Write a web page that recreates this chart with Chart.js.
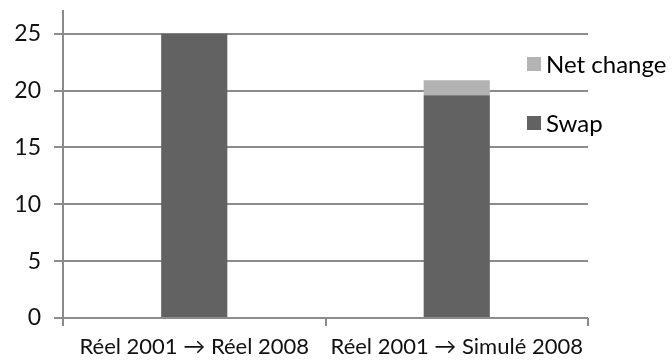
<!DOCTYPE html>
<html>
<head>
<meta charset="utf-8">
<script src="https://cdn.jsdelivr.net/npm/chart.js@4/dist/chart.umd.min.js"></script>
<style>
  html, body { margin: 0; padding: 0; background: #fff; }
  #wrap { width: 672px; height: 361px; }
</style>
</head>
<body>
<div id="wrap"><canvas id="chart" width="672" height="361"></canvas></div>
<script>
const categories = ["Réel 2001 \u2192 Réel 2008", "Réel 2001 \u2192 Simulé 2008"];
const swapValues = [25.0, 19.6];
const netChangeValues = [-0.1, 1.3];
const yTicks = [0, 5, 10, 15, 20, 25];

const FONT = "Lato, 'Open Sans', sans-serif";

// legend sits over the right edge of the plot, drawn by hand
const sideLegend = {
  id: "sideLegend",
  afterDraw(chart) {
    const ctx = chart.ctx;
    const items = chart.data.datasets.slice().reverse();
    ctx.save();
    ctx.font = "24px " + FONT;
    ctx.textBaseline = "middle";
    items.forEach((ds, i) => {
      const y = 64 + i * 59;
      ctx.fillStyle = ds.backgroundColor;
      ctx.fillRect(527, y - 7, 14, 14);
      ctx.fillStyle = "#000";
      ctx.fillText(ds.label, 546, y + 1);
    });
    ctx.restore();
  }
};

new Chart(document.getElementById("chart"), {
  type: "bar",
  data: {
    labels: categories,
    datasets: [
      { label: "Swap", data: swapValues, backgroundColor: "#626262" },
      { label: "Net change", data: netChangeValues, backgroundColor: "#b3b3b3" }
    ]
  },
  options: {
    responsive: false,
    animation: false,
    layout: { padding: { top: 11, right: 84, left: 0, bottom: 0 } },
    plugins: { legend: { display: false }, tooltip: { enabled: false } },
    datasets: { bar: { barPercentage: 0.252, categoryPercentage: 1 } },
    scales: {
      x: {
        stacked: true,
        offset: true,
        afterFit: (s) => { s.height = 43; },
        grid: { offset: true, drawOnChartArea: false, tickLength: 8, color: "#8a8a8a", lineWidth: 2 },
        border: { display: false },
        ticks: { color: "#111", font: { family: FONT, size: 22 }, padding: 8, maxRotation: 0 }
      },
      y: {
        stacked: true,
        min: 0,
        max: 27,
        afterFit: (s) => { s.width = 63; s.paddingTop = 0; s.paddingBottom = 0; },
        afterBuildTicks: (s) => { s.ticks = yTicks.map(v => ({ value: v })); },
        grid: { color: "#8c8c8c", lineWidth: 2, tickLength: 9 },
        border: { display: true, color: "#8a8a8a", width: 2 },
        ticks: { color: "#111", font: { family: FONT, size: 23 }, padding: 13 }
      }
    }
  },
  plugins: [sideLegend]
});
</script>
</body>
</html>
